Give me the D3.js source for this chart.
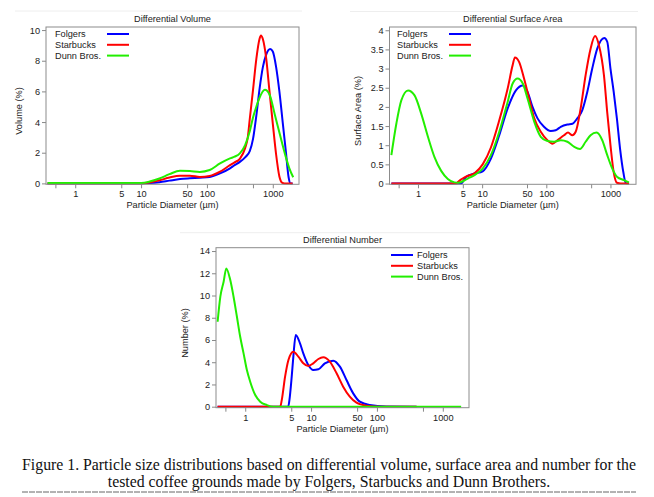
<!DOCTYPE html>
<html>
<head>
<meta charset="utf-8">
<script src="https://cdn.jsdelivr.net/npm/d3@7"></script>
<style>
  body { margin: 0; background: #fff; }
  svg { display: block; font-family: "Liberation Sans", Arial, sans-serif; }
</style>
</head>
<body>
<svg id="fig" width="654" height="497"></svg>
<script>
// ---- data (particle diameter in µm, percent) ----
const seriesNames = ["Folgers", "Starbucks", "Dunn Bros."];
const seriesColors = ["#0000ff", "#ff0000", "#22ee00"];

const xTickValues = [0.5, 1, 5, 10, 50, 100, 500, 1000];
const xTickLabels = [1, 5, 10, 50, 100, 1000];

const volTicks = [0, 2, 4, 6, 8, 10];
const saTicks = [0, 0.5, 1, 1.5, 2, 2.5, 3, 3.5, 4];
const numTicks = [0, 2, 4, 6, 8, 10, 12, 14];

const volFolgers = [[0.38,0],[10,0],[13.5,0.02],[19,0.08],[27,0.18],[39,0.28],[55,0.33],[78,0.37],[110,0.42],
  [158,0.65],[224,0.98],[263,1.19],[316,1.4],[380,1.7],[447,2.1],[501,2.9],[562,4.4],[631,6.2],[708,7.6],
  [794,8.4],[912,8.76],[1000,8.6],[1122,7.6],[1259,6.0],[1413,4.0],[1585,2.0],[1738,0.4],[1862,0],[2000,0]];
const volStarbucks = [[0.38,0],[10,0],[13.5,0.05],[19,0.2],[27,0.38],[39,0.5],[55,0.5],[78,0.42],[110,0.48],
  [158,0.76],[224,1.19],[263,1.37],[316,1.6],[380,2.3],[417,3.0],[447,4.2],[501,6.1],[562,8.1],[631,9.45],
  [661,9.65],[708,9.4],[794,8.15],[891,6.0],[1000,3.9],[1122,1.9],[1259,0.45],[1380,0.05],[1510,0],[2000,0]];
const volDunn = [[0.38,0.02],[10,0.03],[13.5,0.12],[19,0.32],[27,0.6],[39,0.82],[55,0.8],[78,0.75],[110,0.87],
  [158,1.3],[224,1.63],[263,1.74],[316,1.96],[380,2.5],[447,3.4],[501,4.3],[562,5.0],[631,5.6],[759,6.1],
  [891,5.8],[1072,4.5],[1288,3.15],[1549,1.84],[1778,1.0],[2042,0.4]];

const saFolgers = [[0.385,0],[4.7,0],[5.6,0.17],[7.6,0.26],[10.2,0.32],[13.7,0.65],[18.5,1.26],[25,1.96],
  [33.6,2.43],[43,2.56],[51,2.39],[61,2.0],[73,1.7],[92,1.48],[117,1.37],[140,1.39],[168,1.48],[213,1.54],
  [255,1.56],[304,1.7],[363,1.91],[435,2.39],[520,3.0],[622,3.52],[800,3.8],[891,3.7],[1000,3.0],[1122,2.4],
  [1259,1.7],[1413,0.9],[1585,0.3],[1740,0],[1950,0]];
const saStarbucks = [[0.385,0],[4.0,0],[4.2,0.04],[5.6,0.18],[7.6,0.27],[10.2,0.5],[13.7,0.94],[18.5,1.65],
  [25,2.48],[29.9,3.09],[32.4,3.29],[37.8,3.17],[45,2.74],[54,2.22],[65,1.7],[82,1.35],[104,1.13],[125,1.04],
  [149,1.13],[189,1.26],[218,1.33],[255,1.26],[287,1.35],[343,1.96],[410,2.83],[490,3.52],[575,3.85],
  [661,3.61],[791,2.83],[891,1.85],[1000,1.0],[1122,0.3],[1259,0.02],[1450,0],[1950,0]];
const saDunn = [[0.385,0.74],[0.46,1.56],[0.55,2.17],[0.7,2.43],[0.885,2.3],[1.12,1.83],[1.43,1.22],
  [1.81,0.69],[2.3,0.33],[2.92,0.12],[3.7,0.03],[4.3,0.02],[5.97,0.13],[7.6,0.22],[10.2,0.39],[13.7,0.74],
  [18.5,1.35],[25,2.13],[29.9,2.61],[35.7,2.74],[43,2.61],[51,2.22],[65,1.61],[82,1.22],[104,1.11],
  [132,1.09],[168,1.13],[213,1.09],[270,0.96],[335,0.9],[410,1.09],[490,1.26],[608,1.33],[745,1.13],
  [891,0.74],[1067,0.39],[1274,0.17],[1618,0.09],[1936,0.03]];

const numFolgers = [[0.38,0],[4.5,0],[4.69,0.6],[5.08,2.7],[5.38,4.5],[5.85,6.45],[6.79,5.7],[7.62,4.8],
  [9.08,3.75],[10.8,3.3],[12.9,3.36],[16.2,3.9],[21.7,4.14],[27.4,3.6],[34.5,2.4],[43.6,1.2],[55,0.45],
  [77.6,0.15],[138,0.02],[400,0]];
const numStarbucks = [[0.38,0],[3.4,0],[3.59,0.6],[4.03,2.7],[4.53,4.2],[5.38,4.95],[6.41,4.5],[7.62,3.9],
  [9.08,3.66],[10.8,3.9],[12.9,4.29],[15.3,4.44],[19.3,4.05],[24.4,3.0],[30.7,1.8],[38.7,0.9],[48.9,0.36],
  [69,0.09],[110,0],[400,0]];
const numDunn = [[0.381,7.64],[0.419,9.89],[0.47,11.24],[0.516,12.44],[0.593,11.39],[0.665,9.89],
  [0.748,8.09],[0.839,6.29],[0.944,4.8],[1.06,3.3],[1.19,2.25],[1.42,1.05],[1.69,0.45],[2.13,0.15],
  [2.68,0],[1900,0]];

const captionLines = [
  "Figure 1. Particle size distributions based on differential volume, surface area and number for the",
  "tested coffee grounds made by Folgers, Starbucks and Dunn Brothers."
];

// ---- layout ----
const xDomain = [0.36, 2500];
const panels = [
  { title: "Differential Volume", yLabel: "Volume (%)", data: [volFolgers, volStarbucks, volDunn],
    yTicks: volTicks, yDomain: [-0.06, 10.2], left: 46, right: 299, top: 27, bottom: 184.3,
    yLabelX: 22, yLabelY: 111, xLabelY: 208, legend: { x: 55, y: 34, lineX: 107 } },
  { title: "Differential Surface Area", yLabel: "Surface Area (%)", data: [saFolgers, saStarbucks, saDunn],
    yTicks: saTicks, yDomain: [-0.02, 4.085], left: 389.5, right: 636, top: 27, bottom: 184.3,
    yLabelX: 361, yLabelY: 111, xLabelY: 208, legend: { x: 397, y: 34, lineX: 449 } },
  { title: "Differential Number", yLabel: "Number (%)", data: [numFolgers, numStarbucks, numDunn],
    yTicks: numTicks, yDomain: [-0.09, 14.3], left: 216, right: 469, top: 247.7, bottom: 407.7,
    yLabelX: 188, yLabelY: 333, xLabelY: 432, legend: { x: 417, y: 255, lineX: 391 } }
];

const svg = d3.select("#fig");

// faint borders of the pasted chart images
[[15, 302, 11], [350, 638, 11.5], [180, 470, 232.7]].forEach(b => {
  svg.append("line").attr("x1", b[0]).attr("x2", b[1]).attr("y1", b[2]).attr("y2", b[2])
    .attr("stroke", "#eeeeee").attr("stroke-width", 1);
});

function drawPanel(p) {
  const g = svg.append("g");
  const x = d3.scaleLog().domain(xDomain).range([p.left, p.right]);
  const y = d3.scaleLinear().domain(p.yDomain).range([p.bottom, p.top]);
  const cx = (p.left + p.right) / 2;

  const xAxis = d3.axisBottom(x)
    .tickValues(xTickValues)
    .tickFormat(d => xTickLabels.includes(d) ? d : "")
    .tickSize(4).tickSizeOuter(0).tickPadding(2.5);
  g.append("g").attr("transform", `translate(0,${p.bottom})`).call(xAxis)
    .call(s => s.select(".domain").remove());

  const yAxis = d3.axisLeft(y).tickValues(p.yTicks).tickFormat(d => String(d))
    .tickSize(4).tickSizeOuter(0).tickPadding(2);
  g.append("g").attr("transform", `translate(${p.left},0)`).call(yAxis)
    .call(s => s.select(".domain").remove());

  g.selectAll(".tick line").attr("stroke", "#888");
  g.selectAll(".tick text").attr("fill", "#222").style("font-size", "9.2px")
    .style("font-family", "'Liberation Sans', Arial, sans-serif");

  const line = d3.line().x(d => x(d[0])).y(d => y(d[1])).curve(d3.curveMonotoneX);
  p.data.forEach((s, i) => {
    g.append("path").datum(s).attr("d", line)
      .attr("fill", "none").attr("stroke", seriesColors[i]).attr("stroke-width", 2)
      .attr("stroke-linejoin", "round");
  });

  g.append("rect").attr("x", p.left).attr("y", p.top)
    .attr("width", p.right - p.left).attr("height", p.bottom - p.top)
    .attr("fill", "none").attr("stroke", "#8c8c8c").attr("stroke-width", 1);

  g.append("text").attr("x", cx).attr("y", p.top - 5).attr("text-anchor", "middle")
    .attr("fill", "#222").style("font-size", "9.2px").text(p.title);
  g.append("text").attr("x", cx).attr("y", p.xLabelY).attr("text-anchor", "middle")
    .attr("fill", "#222").style("font-size", "9.2px").text("Particle Diameter (\u00b5m)");
  g.append("text").attr("transform", `translate(${p.yLabelX},${p.yLabelY}) rotate(-90)`)
    .attr("text-anchor", "middle").attr("fill", "#222").style("font-size", "9.2px").text(p.yLabel);

  const lg = p.legend;
  seriesNames.forEach((name, i) => {
    const yy = lg.y + i * 10.8;
    g.append("line").attr("x1", lg.lineX).attr("x2", lg.lineX + 22).attr("y1", yy).attr("y2", yy)
      .attr("stroke", seriesColors[i]).attr("stroke-width", 2);
    g.append("text").attr("x", lg.x).attr("y", yy + 3.3).attr("fill", "#222")
      .style("font-size", "9.2px").text(name);
  });
}

panels.forEach(drawPanel);

// caption
captionLines.forEach((t, i) => {
  svg.append("text").attr("x", 329).attr("y", 470 + i * 17).attr("text-anchor", "middle")
    .style("font-family", "'Liberation Serif', 'Times New Roman', serif").style("font-size", "15.8px")
    .attr("fill", "#111").text(t);
});
svg.append("line").attr("x1", 22).attr("x2", 636).attr("y1", 492).attr("y2", 492)
  .attr("stroke", "#666").attr("stroke-width", 1).attr("stroke-dasharray", "6,1");
</script>
</body>
</html>
